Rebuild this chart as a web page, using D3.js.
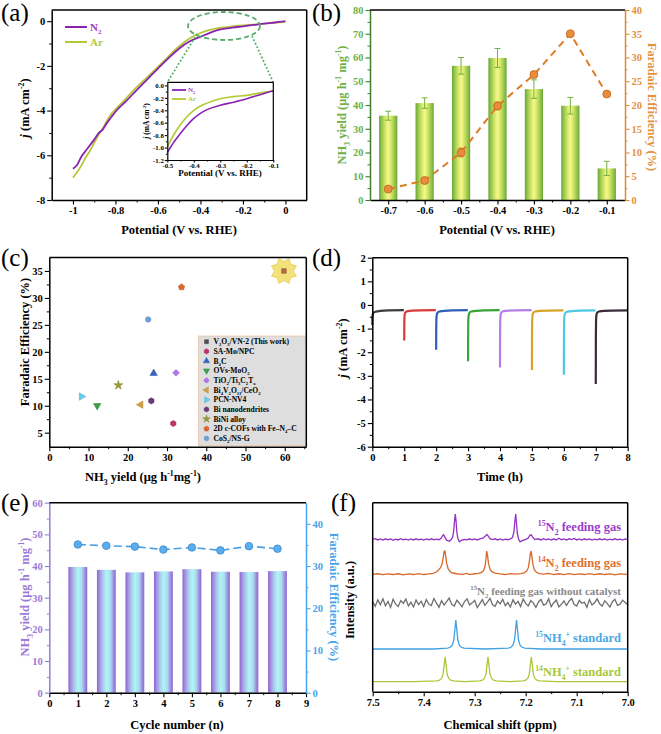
<!DOCTYPE html>
<html><head><meta charset="utf-8">
<script src="https://cdn.jsdelivr.net/npm/d3@7"></script>
<style>body{margin:0;background:#fff}svg{display:block}</style>
</head><body>
<svg id="chart" width="661" height="734"></svg>
<script>
// ---------------- DATA ----------------
// (a) LSV
const lsvPotential = [-1,-0.98,-0.96,-0.94,-0.92,-0.9,-0.88,-0.86,-0.84,-0.82,-0.8,-0.75,-0.7,-0.65,-0.6,-0.55,-0.5,-0.45,-0.4,-0.35,-0.3,-0.25,-0.2,-0.15,-0.1,-0.05,0];
const lsvN2 = [-6.6,-6.42,-6.05,-5.8,-5.55,-5.3,-5.02,-4.85,-4.55,-4.3,-4.05,-3.58,-3.08,-2.6,-2.12,-1.65,-1.22,-0.9,-0.7,-0.5,-0.36,-0.29,-0.23,-0.17,-0.11,-0.06,0.0];
const lsvAr = [-7.0,-6.75,-6.45,-6.1,-5.8,-5.45,-5.1,-4.8,-4.45,-4.15,-3.95,-3.45,-2.95,-2.5,-2.05,-1.57,-1.12,-0.76,-0.53,-0.38,-0.29,-0.23,-0.19,-0.15,-0.11,-0.07,-0.03];
const insetPotential = [-0.5,-0.475,-0.45,-0.425,-0.4,-0.375,-0.35,-0.3,-0.25,-0.2,-0.15,-0.1];
const insetN2 = [-1.08,-0.91,-0.77,-0.64,-0.53,-0.45,-0.39,-0.32,-0.27,-0.215,-0.15,-0.085];
const insetAr = [-0.99,-0.79,-0.63,-0.5,-0.4,-0.33,-0.285,-0.215,-0.18,-0.16,-0.12,-0.085];
// (b) potential dependence
const potentials = [-0.7,-0.6,-0.5,-0.4,-0.3,-0.2,-0.1];
const yieldB = [35.5,40.8,56.5,59.8,46.7,39.7,13.3];
const yieldErr = [1.9,2.2,3.5,4.0,3.9,3.5,3.0];
const feB = [2.3,4.1,10.0,19.8,26.4,35.0,22.3];
const feErr = [0.5,0.6,0.9,0.8,0.6,0.5,0.3];
// (c) comparison
const compNames = ["V_2O_3/VN-2 (This work)","SA-Mo/NPC","B_4C","OVs-MoO_2","TiO_2/Ti_3C_2T_x","Bi_4V_2O_{11}/CeO_2","PCN-NV4","Bi nanodendrites","BiNi alloy","2D c-COFs with Fe–N_4–C","CoS_2/NS-G"];
const compYield = [59.8,31.6,26.6,12.2,32.3,23.3,8.2,26.0,17.6,33.7,25.2];
const compFE = [35.0,6.7,16.0,10.0,16.1,10.2,11.7,10.9,13.8,32.0,26.0];
// (d) chronoamperometry, 8 consecutive one-hour runs
const chronoOffset = [0,0.003,0.008,0.015,0.03,0.06,0.12,0.25,0.5,0.99];
const chronoJ = [
 [-0.85,-0.55,-0.45,-0.4,-0.35,-0.31,-0.28,-0.25,-0.23,-0.22],
 [-1.5,-0.8,-0.5,-0.4,-0.33,-0.29,-0.26,-0.24,-0.23,-0.22],
 [-1.9,-0.95,-0.6,-0.45,-0.36,-0.3,-0.27,-0.25,-0.23,-0.22],
 [-2.38,-1.1,-0.65,-0.47,-0.37,-0.3,-0.27,-0.25,-0.23,-0.22],
 [-2.65,-1.2,-0.65,-0.45,-0.35,-0.29,-0.26,-0.24,-0.23,-0.22],
 [-2.75,-1.25,-0.68,-0.47,-0.36,-0.3,-0.27,-0.25,-0.24,-0.23],
 [-2.95,-1.3,-0.7,-0.5,-0.38,-0.31,-0.28,-0.26,-0.24,-0.23],
 [-3.35,-1.4,-0.72,-0.48,-0.36,-0.3,-0.27,-0.25,-0.24,-0.23]
];
// (e) cycling
const cycles = [1,2,3,4,5,6,7,8];
const cycleYield = [39.7,38.8,38.0,38.3,39.0,38.2,38.1,38.4];
const cycleFE = [35.1,34.8,34.6,33.9,34.4,33.7,34.7,34.1];
// (f) 1H NMR spectra [ppm, intensity (a.u.)]
const nmr14NH4 = [[7.5,5.3],[7.42,5.3],[7.374,5.7],[7.369,6.1],[7.365,7.0],[7.362,9.3],[7.36,13.9],[7.358,18.5],[7.356,13.9],[7.354,9.3],[7.351,7.0],[7.347,6.1],[7.342,5.7],[7.32,5.3],[7.29,5.7],[7.285,6.1],[7.281,7.0],[7.278,9.3],[7.276,13.9],[7.274,18.5],[7.272,13.9],[7.27,9.3],[7.267,7.0],[7.263,6.1],[7.258,5.7],[7.23,5.3],[7.205,5.7],[7.2,6.1],[7.196,7.0],[7.193,9.3],[7.191,13.9],[7.189,18.5],[7.187,13.9],[7.185,9.3],[7.182,7.0],[7.178,6.1],[7.173,5.7],[7.14,5.3],[7.0,5.3]];
const nmr15NH4 = [[7.5,22.6],[7.38,22.6],[7.353,23.1],[7.348,23.5],[7.344,24.6],[7.341,27.2],[7.339,32.5],[7.337,37.9],[7.335,32.5],[7.333,27.2],[7.33,24.6],[7.326,23.5],[7.321,23.1],[7.28,22.6],[7.234,23.1],[7.229,23.5],[7.225,24.6],[7.222,27.2],[7.22,32.5],[7.218,37.9],[7.216,32.5],[7.214,27.2],[7.211,24.6],[7.207,23.5],[7.202,23.1],[7.17,22.6],[7.0,22.6]];
const nmrBlankValues = [47.5,45.2,48.6,46.0,49.2,45.5,47.8,44.6,48.9,46.3,45.1,48.2,46.7,49.0,45.4,47.3,44.8,48.5,46.1,47.9,45.0,48.8,46.4,45.6,49.3,46.9,44.7,48.1,45.8,47.6,49.5,46.2,45.3,48.4,46.8,44.9,47.7,49.1,45.9,47.0,48.3,44.5,46.6,48.7,45.7,47.4,49.4,46.0,45.2,48.0,46.5,48.9,45.5,47.2,44.8,48.6,46.3,47.8,45.1,49.0,46.7,45.4,48.2,46.9,44.6,47.5,48.8,45.8,46.4,49.2,45.0,47.1,48.5,44.9,46.2,48.0,45.6,47.9,49.3,46.1,45.3,48.3,46.8,47.4,44.7,48.7,45.9,47.0,49.1,46.5,45.2,48.1,46.6,44.8,47.6,48.9,45.7,46.3,48.4,47.2,46.0];
const nmrBlankPpm = d3.range(nmrBlankValues.length).map(i => 7.5 - i*0.005);
const nmr14N2 = [[7.5,62.1],[7.49,62.4],[7.48,61.9],[7.47,62.3],[7.46,62.0],[7.45,62.4],[7.44,61.8],[7.43,62.3],[7.42,62.0],[7.41,62.5],[7.40,62.0],[7.39,62.3],[7.382,62.6],[7.376,63.2],[7.371,64.4],[7.367,65.6],[7.364,67.5],[7.362,70.5],[7.360,74.2],[7.3585,74.4],[7.357,72.0],[7.355,68.0],[7.352,65.0],[7.348,63.5],[7.343,62.8],[7.335,62.4],[7.325,62.1],[7.315,62.6],[7.31,62.0],[7.30,62.4],[7.292,62.6],[7.287,63.1],[7.283,64.0],[7.28,66.0],[7.278,70.0],[7.2765,74.4],[7.275,72.5],[7.273,68.0],[7.27,64.8],[7.266,63.4],[7.26,62.7],[7.25,62.3],[7.24,62.0],[7.23,62.5],[7.22,62.2],[7.21,62.5],[7.203,62.9],[7.198,63.8],[7.195,65.5],[7.193,68.5],[7.191,73.0],[7.1895,74.4],[7.188,72.0],[7.186,67.5],[7.183,64.6],[7.179,63.2],[7.173,62.5],[7.165,62.2],[7.155,62.6],[7.145,61.9],[7.135,62.4],[7.125,62.0],[7.115,62.5],[7.105,61.9],[7.095,62.3],[7.085,62.0],[7.075,62.5],[7.065,61.9],[7.055,62.4],[7.045,62.0],[7.035,62.3],[7.025,61.8],[7.015,62.3],[7.0,62.1]];
const nmr15N2 = [[7.5,80.6],[7.495,81.0],[7.49,80.3],[7.485,80.8],[7.48,80.2],[7.475,80.9],[7.47,80.4],[7.465,80.8],[7.46,80.1],[7.455,80.7],[7.45,80.3],[7.445,81.0],[7.44,80.4],[7.435,80.7],[7.43,80.2],[7.425,80.8],[7.42,80.3],[7.415,80.9],[7.41,80.4],[7.405,80.7],[7.40,80.2],[7.395,80.8],[7.39,80.4],[7.385,80.9],[7.38,80.3],[7.375,80.7],[7.37,80.4],[7.366,81.2],[7.363,82.6],[7.361,83.0],[7.358,81.5],[7.355,80.2],[7.35,79.6],[7.346,80.5],[7.343,82.0],[7.341,85.5],[7.3395,90.5],[7.338,94.0],[7.3365,90.0],[7.335,84.5],[7.333,81.0],[7.33,79.3],[7.326,80.1],[7.32,80.6],[7.315,80.3],[7.31,80.9],[7.305,80.4],[7.30,80.8],[7.295,80.3],[7.29,80.9],[7.284,81.2],[7.279,82.4],[7.276,83.2],[7.273,82.2],[7.27,81.0],[7.265,80.5],[7.26,80.9],[7.255,80.3],[7.25,80.8],[7.245,80.2],[7.24,80.7],[7.235,80.4],[7.23,80.9],[7.226,81.5],[7.223,84.5],[7.2215,89.5],[7.2196,94.0],[7.218,89.0],[7.2165,84.0],[7.214,80.8],[7.211,79.3],[7.207,79.9],[7.2,80.6],[7.195,81.3],[7.192,82.7],[7.189,83.0],[7.186,81.6],[7.182,80.5],[7.176,80.9],[7.17,80.3],[7.165,81.0],[7.16,80.4],[7.155,80.8],[7.15,80.2],[7.145,80.9],[7.14,80.3],[7.135,81.2],[7.13,80.4],[7.125,80.8],[7.12,80.2],[7.115,80.9],[7.11,80.5],[7.105,81.1],[7.10,80.3],[7.095,80.8],[7.09,80.2],[7.085,80.9],[7.08,80.4],[7.075,80.8],[7.07,80.2],[7.065,80.7],[7.06,80.3],[7.055,80.9],[7.05,80.4],[7.045,80.8],[7.04,80.2],[7.035,80.7],[7.03,80.3],[7.025,80.9],[7.02,80.4],[7.015,80.7],[7.01,80.2],[7.005,80.8],[7.0,80.5]];
const nmrLabels = ["^{15}N_2 feeding gas","^{14}N_2 feeding gas","^{15}N_2 feeding gas without catalyst","^{15}NH_4^+ standard","^{14}NH_4^+ standard"];

// ---------------- HELPERS ----------------
const FONT = '"Liberation Serif","Times New Roman",serif';
const svg = d3.select('#chart').attr('font-family', FONT);
svg.append('rect').attr('width',661).attr('height',734).attr('fill','#fff');
const defs = svg.append('defs');

function rich(t, str, fs){
  const parts=[]; let cur='', it=false, i=0;
  const push=(s,m)=>{ if(s) parts.push({t:s,m,it}); };
  while(i<str.length){
    const c=str[i];
    if(c==='_'||c==='^'){
      push(cur,0); cur='';
      let content;
      if(str[i+1]==='{'){const e=str.indexOf('}',i+2); content=str.slice(i+2,e); i=e+1;}
      else {content=str[i+1]; i+=2;}
      parts.push({t:content,m:c==='_'?1:-1,it});
    } else if(c==='*'){ push(cur,0); cur=''; it=!it; i++; }
    else { cur+=c; i++; }
  }
  push(cur,0);
  let prev=0;
  parts.forEach(p=>{
    const off = p.m===1 ? fs*0.28 : p.m===-1 ? -fs*0.4 : 0;
    const ts=t.append('tspan').attr('dy',(off-prev).toFixed(2)).text(p.t);
    if(p.m) ts.attr('font-size',(fs*0.62).toFixed(2));
    if(p.it) ts.attr('font-style','italic');
    prev=off;
  });
}
function label(g, x, y, str, o={}){
  const fs=o.fs||12, rot=o.rotate||0;
  let tx=x, ty=y;
  if(rot===0) ty=y+fs*0.33; else if(rot===-90) tx=x+fs*0.33; else tx=x-fs*0.33;
  const t=g.append('text').attr('transform',`translate(${tx},${ty}) rotate(${rot})`)
    .attr('text-anchor',o.anchor||'middle').attr('font-size',fs)
    .attr('font-weight',o.weight||'bold').attr('fill',o.fill||'#000');
  rich(t,str,fs);
  return t;
}
function axis(g, type, scale, pos, o){
  const gen={bottom:d3.axisBottom,top:d3.axisTop,left:d3.axisLeft,right:d3.axisRight}[type];
  const isH=(type==='bottom'||type==='top');
  const color=o.color||'#000';
  const gA=g.append('g').attr('transform', isH?`translate(0,${pos})`:`translate(${pos},0)`);
  if(o.minor){
    const m=gA.append('g').call(gen(scale).tickValues(o.minor).tickSize(o.minLen||2.5).tickSizeOuter(0).tickFormat(''));
    m.select('.domain').remove();
    m.selectAll('line').attr('stroke',color).attr('stroke-width',1);
  }
  const M=gA.append('g').call(gen(scale).tickValues(o.major||[]).tickSize(o.majLen||4.5).tickSizeOuter(0)
      .tickFormat(o.fmt||(d=>String(d))).tickPadding(o.pad||2));
  M.attr('font-family',FONT).attr('font-size',o.fs||10.5);
  M.select('.domain').attr('stroke',color).attr('stroke-width',o.width||1.5);
  M.selectAll('.tick line').attr('stroke',color).attr('stroke-width',1.1);
  M.selectAll('text').attr('fill',o.lblColor||color).attr('font-weight','bold');
  return gA;
}
function hline(g,x1,x2,y,c='#000',w=1.5){g.append('line').attr('x1',x1).attr('x2',x2).attr('y1',y).attr('y2',y).attr('stroke',c).attr('stroke-width',w);}
function vline(g,x,y1,y2,c='#000',w=1.5){g.append('line').attr('x1',x).attr('x2',x).attr('y1',y1).attr('y2',y2).attr('stroke',c).attr('stroke-width',w);}
function grad(id, stops){
  const gr=defs.append('linearGradient').attr('id',id).attr('x1','0%').attr('x2','100%').attr('y1','0%').attr('y2','0%');
  stops.forEach(([o,c])=>gr.append('stop').attr('offset',o).attr('stop-color',c));
}
function polyPath(n, R, r, rot=0){
  const pts=[];
  const k = r ? 2*n : n;
  for(let i=0;i<k;i++){
    const rad = (r && i%2) ? r : R;
    const a = rot + i*2*Math.PI/k - Math.PI/2;
    pts.push([rad*Math.cos(a), rad*Math.sin(a)]);
  }
  return 'M'+pts.map(p=>p[0].toFixed(2)+','+p[1].toFixed(2)).join('L')+'Z';
}
function marker(g, shape, x, y, fill, sc=1){
  let d;
  switch(shape){
    case 'square': d=d3.symbol(d3.symbolSquare,22)(); break;
    case 'circle': d=d3.symbol(d3.symbolCircle,24)(); break;
    case 'triUp': case 'triDown': case 'triLeft': case 'triRight': d=d3.symbol(d3.symbolTriangle,24)(); break;
    case 'diamond': d=polyPath(4,3.4,0); break;
    case 'star': d=d3.symbol(d3.symbolStar,26)(); break;
    case 'pent': d=polyPath(5,3.3,0); break;
    case 'hex': d=polyPath(6,3.1,0); break;
  }
  const rot={triDown:180,triLeft:-90,triRight:90}[shape]||0;
  g.append('path').attr('d',d).attr('transform',`translate(${x},${y}) rotate(${rot}) scale(${sc})`)
   .attr('fill',fill).attr('stroke',d3.color(fill).darker(0.6)).attr('stroke-width',0.5);
}

// ---------------- PANEL (a) ----------------
{
  const g=svg.append('g');
  const P={l:51.7,r:306.7,t:10,b:200};
  const x=d3.scaleLinear().domain([-1.1,0.1]).range([P.l,P.r]);
  const y=d3.scaleLinear().domain([-8,0.5]).range([P.b,P.t]);
  const ln=d3.line().x(d=>x(d[0])).y(d=>y(d[1])).curve(d3.curveMonotoneX);
  g.append('path').datum(lsvPotential.map((p,i)=>[p,lsvAr[i]])).attr('d',ln).attr('fill','none').attr('stroke','#b5c934').attr('stroke-width',1.8);
  g.append('path').datum(lsvPotential.map((p,i)=>[p,lsvN2[i]])).attr('d',ln).attr('fill','none').attr('stroke','#8b22b2').attr('stroke-width',1.8);
  axis(g,'bottom',x,P.b,{major:[-1,-0.8,-0.6,-0.4,-0.2,0],minor:[-0.9,-0.7,-0.5,-0.3,-0.1]});
  axis(g,'left',y,P.l,{major:[0,-2,-4,-6,-8],minor:[-1,-3,-5,-7]});
  hline(g,P.l,P.r,P.t); vline(g,P.r,P.t,P.b);
  hline(g,65,87,27,'#8b22b2',2); hline(g,65,87,42,'#b5c934',2);
  label(g,90,27,'N_2',{fs:11,anchor:'start',fill:'#a040c8'});
  label(g,90,42,'Ar',{fs:11,anchor:'start',fill:'#b5c934'});
  g.append('ellipse').attr('cx',224).attr('cy',26).attr('rx',36).attr('ry',14).attr('fill','none')
    .attr('stroke','#5aab6a').attr('stroke-width',1.8).attr('stroke-dasharray','5,3');
  const I={l:167.3,r:273.3,t:82.3,b:160};
  g.append('line').attr('x1',197).attr('y1',34).attr('x2',I.l).attr('y2',I.t).attr('stroke','#5aab6a').attr('stroke-width',1.8).attr('stroke-dasharray','1.8,2');
  g.append('line').attr('x1',252).attr('y1',36).attr('x2',I.r).attr('y2',I.t).attr('stroke','#5aab6a').attr('stroke-width',1.8).attr('stroke-dasharray','1.8,2');
  g.append('rect').attr('x',I.l).attr('y',I.t).attr('width',I.r-I.l).attr('height',I.b-I.t).attr('fill','#fff');
  const ix=d3.scaleLinear().domain([-0.5,-0.1]).range([I.l,I.r]);
  const iy=d3.scaleLinear().domain([-1.2,0.05]).range([I.b,I.t]);
  const iln=d3.line().x(d=>ix(d[0])).y(d=>iy(d[1])).curve(d3.curveMonotoneX);
  g.append('path').datum(insetPotential.map((p,i)=>[p,insetAr[i]])).attr('d',iln).attr('fill','none').attr('stroke','#b5c934').attr('stroke-width',1.6);
  g.append('path').datum(insetPotential.map((p,i)=>[p,insetN2[i]])).attr('d',iln).attr('fill','none').attr('stroke','#8b22b2').attr('stroke-width',1.6);
  axis(g,'bottom',ix,I.b,{major:[-0.5,-0.4,-0.3,-0.2,-0.1],minor:[-0.45,-0.35,-0.25,-0.15],fs:6.8,majLen:2.5,minLen:1.5,width:1.2,pad:1});
  axis(g,'left',iy,I.l,{major:[0,-0.2,-0.4,-0.6,-0.8,-1.0,-1.2],minor:[-0.1,-0.3,-0.5,-0.7,-0.9,-1.1],fmt:d=>d.toFixed(1),fs:6.8,majLen:2.5,minLen:1.5,width:1.2,pad:1});
  hline(g,I.l,I.r,I.t,'#000',1.2); vline(g,I.r,I.t,I.b,'#000',1.2);
  hline(g,172,186,90,'#8b22b2',1.8); hline(g,172,186,99,'#b5c934',1.8);
  label(g,188,90,'N_2',{fs:7,anchor:'start',fill:'#a040c8'});
  label(g,188,99,'Ar',{fs:7,anchor:'start',fill:'#b5c934'});
  label(g,220,173,'Potential (V vs. RHE)',{fs:9});
  label(g,147,121,'*j* (mA cm^{-2})',{fs:7.5,rotate:-90});
  label(g,179,230,'Potential (V vs. RHE)',{fs:12.5});
  label(g,25,108,'*j* (mA cm^{-2})',{fs:12.5,rotate:-90});
  label(g,1,13,'(a)',{fs:25,anchor:'start',weight:'normal'});
}

// ---------------- PANEL (b) ----------------
{
  const g=svg.append('g');
  const P={l:370,r:625,t:10,b:200};
  const x=d3.scaleLinear().domain([-0.75,-0.05]).range([P.l,P.r]);
  const yL=d3.scaleLinear().domain([0,80]).range([P.b,P.t]);
  const yR=d3.scaleLinear().domain([0,40]).range([P.b,P.t]);
  grad('gB',[[0,'#68a336'],[0.12,'#8fc24a'],[0.26,'#b9da5c'],[0.4,'#e2ee74'],[0.5,'#f6f68e'],[0.6,'#e2ee74'],[0.74,'#b9da5c'],[0.88,'#8fc24a'],[1,'#68a336']]);
  const hw=0.025;
  g.selectAll('rect.bar').data(potentials).join('rect').attr('class','bar')
    .attr('x',d=>x(d-hw)).attr('width',d=>x(d+hw)-x(d-hw))
    .attr('y',(d,i)=>yL(yieldB[i])).attr('height',(d,i)=>P.b-yL(yieldB[i]))
    .attr('fill','url(#gB)');
  const ec='#72b043';
  potentials.forEach((p,i)=>{
    const cx=x(p), y1=yL(yieldB[i]+yieldErr[i]), y2=yL(yieldB[i]-yieldErr[i]);
    vline(g,cx,y1,y2,ec,1); hline(g,cx-3,cx+3,y1,ec,1); hline(g,cx-3,cx+3,y2,ec,1);
  });
  const ln=d3.line().x((d,i)=>x(potentials[i])).y(d=>yR(d));
  g.append('path').datum(feB).attr('d',ln).attr('fill','none').attr('stroke','#e07b20').attr('stroke-width',2).attr('stroke-dasharray','7,5');
  potentials.forEach((p,i)=>{
    const cx=x(p), y1=yR(feB[i]+feErr[i]), y2=yR(feB[i]-feErr[i]);
    vline(g,cx,y1,y2,'#c8661a',1); hline(g,cx-2.5,cx+2.5,y1,'#c8661a',1); hline(g,cx-2.5,cx+2.5,y2,'#c8661a',1);
    g.append('circle').attr('cx',cx).attr('cy',yR(feB[i])).attr('r',4).attr('fill','#e98c3c').attr('stroke','#c0651c').attr('stroke-width',0.8);
  });
  axis(g,'bottom',x,P.b,{major:potentials,minor:[-0.65,-0.55,-0.45,-0.35,-0.25,-0.15]});
  axis(g,'left',yL,P.l,{major:[0,10,20,30,40,50,60,70,80],minor:[5,15,25,35,45,55,65,75],color:'#3f7f2a',lblColor:'#72b043'});
  axis(g,'right',yR,P.r,{major:[0,5,10,15,20,25,30,35,40],minor:[2.5,7.5,12.5,17.5,22.5,27.5,32.5,37.5],color:'#e08a30',lblColor:'#e4923c'});
  hline(g,P.l,P.r,P.t);
  label(g,497,230,'Potential (V vs. RHE)',{fs:12.5});
  label(g,342,105,'NH_3 yield (μg h^{-1} mg^{-1})',{fs:12.5,rotate:-90,fill:'#72b043'});
  label(g,652,107,'Faradaic Efficiency (%)',{fs:12.5,rotate:90,fill:'#e4923c'});
  label(g,312,13,'(b)',{fs:25,anchor:'start',weight:'normal'});
}

// ---------------- PANEL (c) ----------------
{
  const g=svg.append('g');
  const P={l:49.3,r:306.3,t:257.5,b:446.7};
  const x=d3.scaleLinear().domain([0,65.5]).range([P.l,P.r]);
  const y=d3.scaleLinear().domain([2.4,37.5]).range([P.b,P.t]);
  const shapes=['square','hex','triUp','triDown','diamond','triLeft','triRight','hex','star','pent','circle'];
  const fills=['#505050','#c2336e','#3467c4','#3aa24a','#b274ec','#d4a040','#66ccf2','#6a3a78','#9c9c3a','#e2662e','#6f9fd8'];
  const plotFills=fills.slice(); plotFills[0]='#b06a3c';
  g.append('path').attr('d',polyPath(8,13.5,9.5,Math.PI/8)).attr('transform',`translate(${x(compYield[0])},${y(compFE[0])})`)
    .attr('fill','#f3e27c').attr('stroke','#e6cf5a').attr('stroke-width',0.8);
  compNames.forEach((n,i)=>marker(g,shapes[i],x(compYield[i]),y(compFE[i]),plotFills[i]));
  g.append('rect').attr('x',198.3).attr('y',336).attr('width',P.r-198.3).attr('height',109.5).attr('fill','#dedede').attr('stroke','#e8b88a').attr('stroke-width',0.6);
  compNames.forEach((n,i)=>{
    const yy=341.7+i*9.67;
    marker(g,shapes[i],206.5,yy,fills[i],0.85);
    label(g,213.5,yy,n,{fs:7.6,anchor:'start'});
  });
  axis(g,'bottom',x,P.b,{major:[0,10,20,30,40,50,60],minor:[5,15,25,35,45,55,65]});
  axis(g,'left',y,P.l,{major:[5,10,15,20,25,30,35],minor:[7.5,12.5,17.5,22.5,27.5,32.5]});
  hline(g,P.l,P.r,P.t); vline(g,P.r,P.t,P.b);
  label(g,143,477,'NH_3 yield (μg h^{-1}mg^{-1})',{fs:12.5});
  label(g,25,342,'Faradaic Efficiency (%)',{fs:12.5,rotate:-90});
  label(g,1,258,'(c)',{fs:25,anchor:'start',weight:'normal'});
}

// ---------------- PANEL (d) ----------------
{
  const g=svg.append('g');
  const P={l:372.3,r:627.7,t:257.7,b:446.7};
  const x=d3.scaleLinear().domain([0,8]).range([P.l,P.r]);
  const y=d3.scaleLinear().domain([-6,2]).range([P.b,P.t]);
  const colors=['#3c3c3c','#d63a3a','#2f5fb8','#3aa43a','#b47ee6','#d8a428','#4fc8e6','#3a2a3a'];
  const ln=d3.line().x(d=>x(d[0])).y(d=>y(d[1]));
  chronoJ.forEach((seg,k)=>{
    g.append('path').datum(seg.map((v,i)=>[k+chronoOffset[i],v])).attr('d',ln)
      .attr('fill','none').attr('stroke',colors[k]).attr('stroke-width',2.2);
  });
  axis(g,'bottom',x,P.b,{major:[0,1,2,3,4,5,6,7,8],minor:[0.5,1.5,2.5,3.5,4.5,5.5,6.5,7.5]});
  axis(g,'left',y,P.l,{major:[2,1,0,-1,-2,-3,-4,-5,-6],minor:[1.5,0.5,-0.5,-1.5,-2.5,-3.5,-4.5,-5.5]});
  hline(g,P.l,P.r,P.t); vline(g,P.r,P.t,P.b);
  label(g,500,477,'Time (h)',{fs:12.5});
  label(g,343,348,'*j* (mA cm^{-2})',{fs:12.5,rotate:-90});
  label(g,312,258,'(d)',{fs:25,anchor:'start',weight:'normal'});
}

// ---------------- PANEL (e) ----------------
{
  const g=svg.append('g');
  const P={l:49.3,r:306,t:502.7,b:692.7};
  const x=d3.scaleLinear().domain([0,9]).range([P.l,P.r]);
  const yL=d3.scaleLinear().domain([0,60]).range([P.b,P.t]);
  const yR=d3.scaleLinear().domain([0,45]).range([P.b,P.t]);
  grad('gE',[[0,'#8a66cf'],[0.14,'#a690e2'],[0.32,'#a9cdee'],[0.52,'#b2f4f4'],[0.72,'#a6dcf0'],[0.88,'#a08ee0'],[1,'#8a66cf']]);
  const hw=0.33;
  g.selectAll('rect.bar').data(cycles).join('rect').attr('class','bar')
    .attr('x',d=>x(d-hw)).attr('width',d=>x(d+hw)-x(d-hw))
    .attr('y',(d,i)=>yL(cycleYield[i])).attr('height',(d,i)=>P.b-yL(cycleYield[i]))
    .attr('fill','url(#gE)');
  const ln=d3.line().x((d,i)=>x(cycles[i])).y(d=>yR(d));
  g.append('path').datum(cycleFE).attr('d',ln).attr('fill','none').attr('stroke','#4a9fe0').attr('stroke-width',1.6).attr('stroke-dasharray','8,4');
  cycles.forEach((c,i)=>{
    g.append('circle').attr('cx',x(c)).attr('cy',yR(cycleFE[i])).attr('r',3.8).attr('fill','#5aaeee').attr('stroke','#3a88cc').attr('stroke-width',0.8);
  });
  axis(g,'bottom',x,P.b,{major:[0,1,2,3,4,5,6,7,8,9],minor:[0.5,1.5,2.5,3.5,4.5,5.5,6.5,7.5,8.5]});
  axis(g,'left',yL,P.l,{major:[0,10,20,30,40,50,60],minor:[5,15,25,35,45,55],color:'#9a7ad8',lblColor:'#9a7ad8'});
  axis(g,'right',yR,P.r,{major:[0,10,20,30,40],minor:[5,15,25,35],color:'#4aa3e8',lblColor:'#4aa3e8'});
  hline(g,P.l,P.r,P.t);
  label(g,177,725,'Cycle number (n)',{fs:12.5});
  label(g,25,597,'NH_3 yield (μg h^{-1} mg^{-1})',{fs:12.5,rotate:-90,fill:'#9a7ad8'});
  label(g,334,597,'Faradaic Efficiency (%)',{fs:12.5,rotate:90,fill:'#4aa3e8'});
  label(g,1,503,'(e)',{fs:25,anchor:'start',weight:'normal'});
}

// ---------------- PANEL (f) ----------------
{
  const g=svg.append('g');
  const P={l:372.7,r:627.7,t:502.7,b:691.7};
  const x=d3.scaleLinear().domain([7.5,7.0]).range([P.l,P.r]);
  const y=d3.scaleLinear().domain([0,100]).range([P.b,P.t]);
  const ln=d3.line().x(d=>x(d[0])).y(d=>y(d[1]));
  const traces=[nmr15N2, nmr14N2, nmrBlankPpm.map((p,i)=>[p,nmrBlankValues[i]]), nmr15NH4, nmr14NH4];
  const colors=['#9430c4','#d8692a','#6e6e6e','#3fa2e2','#a9c93a'];
  traces.forEach((t,i)=>g.append('path').datum(t).attr('d',ln).attr('fill','none').attr('stroke',colors[i]).attr('stroke-width',1.3));
  const lblColors=['#9b3ccc','#e07030','#8a8a8a','#4aa8e4','#a8c83a'];
  const lblY=[527,563,591,638,672];
  const lblFs=[12.5,12.5,11,12.5,12.5];
  nmrLabels.forEach((s,i)=>label(g,621,lblY[i],s,{fs:lblFs[i],anchor:'end',fill:lblColors[i]}));
  axis(g,'bottom',x,P.b,{major:[7.5,7.4,7.3,7.2,7.1,7.0],minor:[7.45,7.35,7.25,7.15,7.05],fmt:d=>d.toFixed(1)});
  vline(g,P.l,P.t,P.b); hline(g,P.l,P.r,P.t); vline(g,P.r,P.t,P.b);
  label(g,500,725,'Chemical shift (ppm)',{fs:12.5});
  label(g,350,600,'Intensity (a.u.)',{fs:12.5,rotate:-90});
  label(g,331,503,'(f)',{fs:25,anchor:'start',weight:'normal'});
}
</script>
</body></html>
